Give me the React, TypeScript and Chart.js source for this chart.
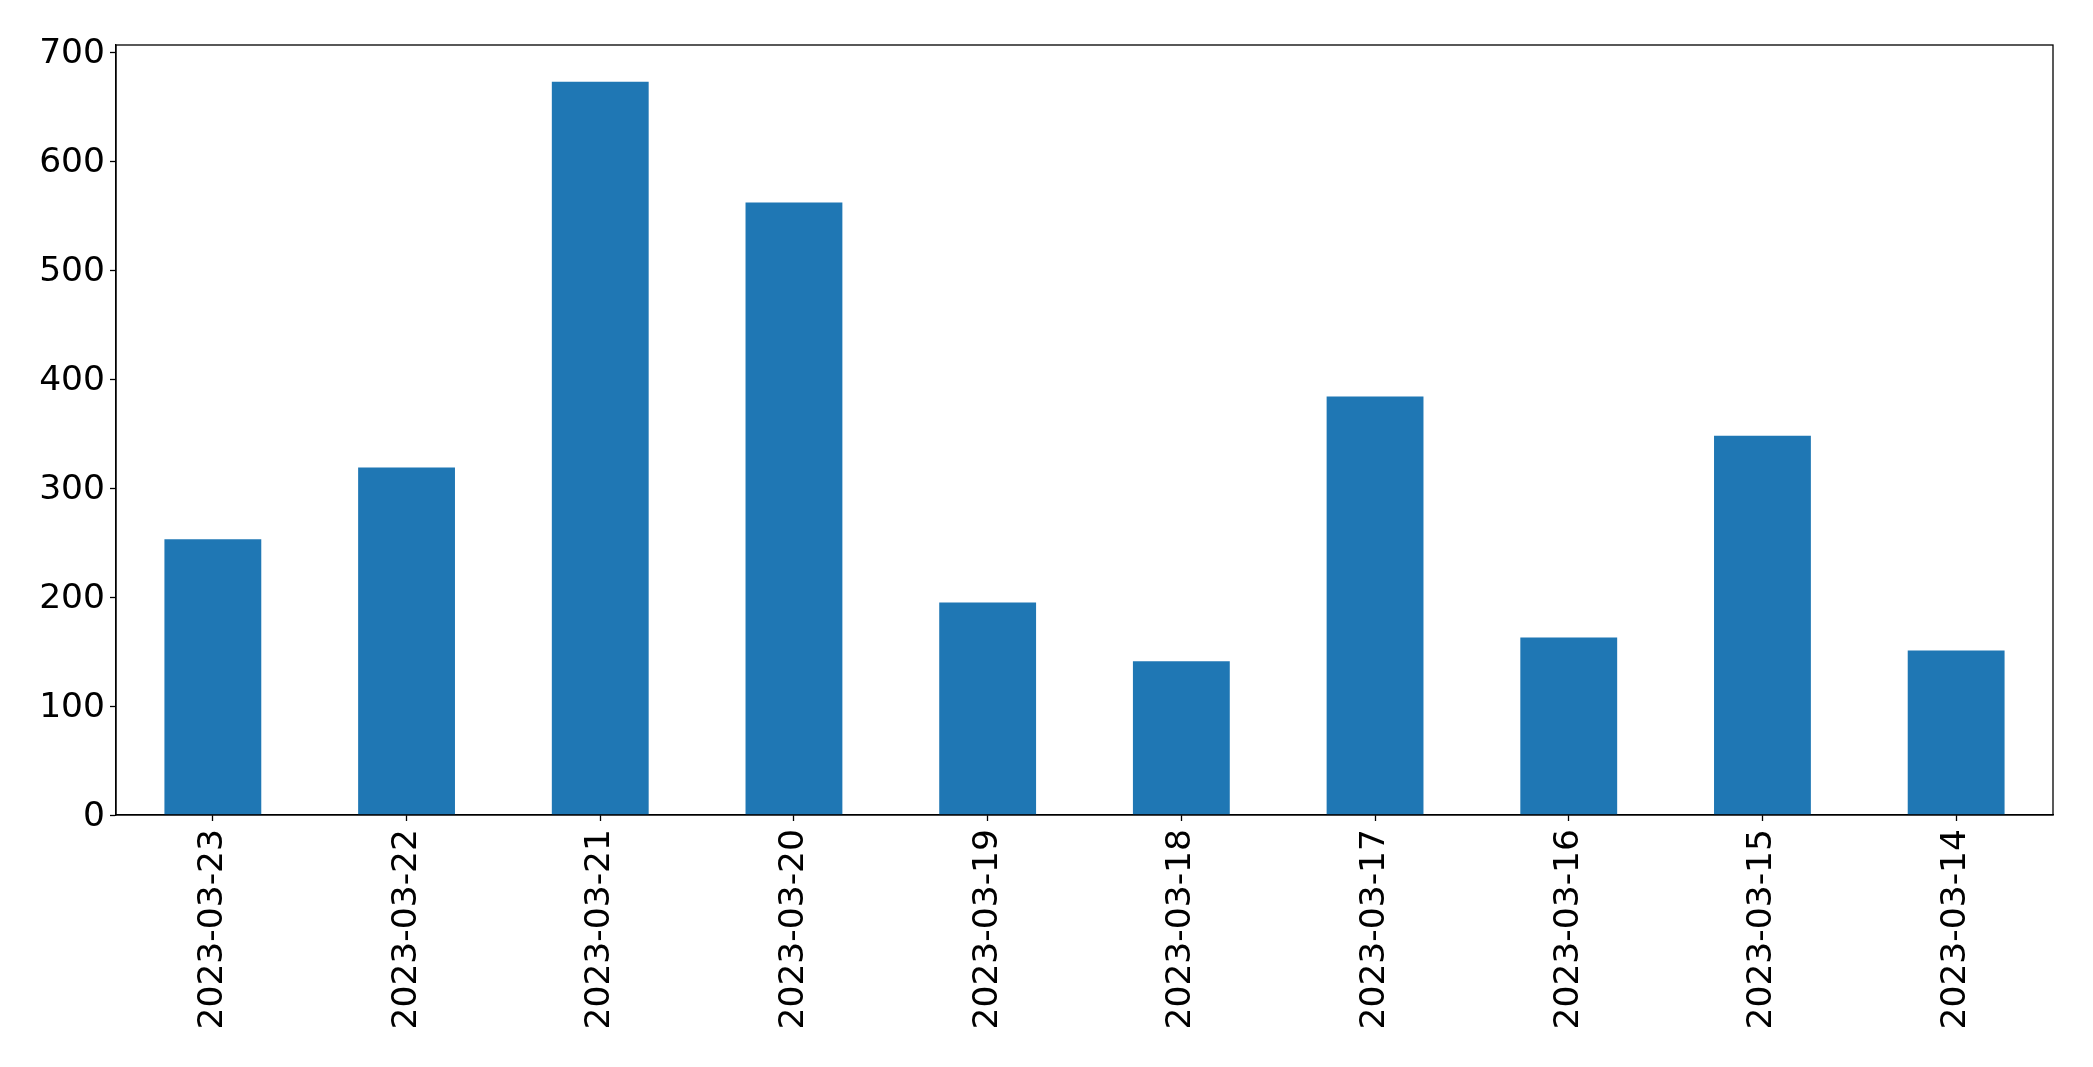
import React, { useEffect, useRef } from "react";
import { Chart, registerables } from "chart.js";

Chart.register(...registerables);

const categories = [
  "2023-03-23",
  "2023-03-22",
  "2023-03-21",
  "2023-03-20",
  "2023-03-19",
  "2023-03-18",
  "2023-03-17",
  "2023-03-16",
  "2023-03-15",
  "2023-03-14",
];
const counts = [253, 319, 673, 562, 195, 141, 384, 163, 348, 151];
const yTicks = [0, 100, 200, 300, 400, 500, 600, 700];

const W = 2093;
const H = 1067;

const framePlugin = {
  id: "frame",
  afterDraw(chart: any) {
    const { ctx, chartArea } = chart;
    ctx.save();
    ctx.strokeStyle = "#000";
    ctx.lineWidth = 1.3;
    ctx.strokeRect(chartArea.left, chartArea.top, chartArea.right - chartArea.left, chartArea.bottom - chartArea.top);
    ctx.restore();
  },
};

export default function App() {
  const ref = useRef<HTMLCanvasElement | null>(null);
  useEffect(() => {
    document.body.style.margin = "0";
    const canvas = ref.current!;
    const yMax = Math.max(...counts) * 1.05;
    const chart = new Chart(canvas, {
      type: "bar",
      data: {
        labels: categories,
        datasets: [
          {
            data: counts,
            backgroundColor: "#1f77b4",
            borderWidth: 0,
            barPercentage: 0.5,
            categoryPercentage: 1,
          },
        ],
      },
      options: {
        responsive: false,
        animation: false,
        devicePixelRatio: 1,
        layout: { padding: { top: 45, right: 40, left: 0, bottom: 0 } },
        plugins: { legend: { display: false }, tooltip: { enabled: false } },
        scales: {
          x: {
            offset: true,
            grid: { offset: false, drawOnChartArea: false, drawTicks: true, tickLength: 6, color: "#000", tickWidth: 1.3 },
            border: { display: true, color: "#000", width: 1.3 },
            ticks: {
              color: "#000",
              font: { family: "DejaVu Sans", size: 34.5 },
              minRotation: 90,
              maxRotation: 90,
              padding: 8,
              autoSkip: false,
            },
            afterFit(scale: any) {
              scale.height = H - 815;
            },
          },
          y: {
            min: 0,
            max: yMax,
            grid: { drawOnChartArea: false, drawTicks: true, tickLength: 6, color: "#000", tickWidth: 1.3 },
            border: { display: true, color: "#000", width: 1.3 },
            afterBuildTicks(scale: any) {
              scale.ticks = yTicks.map((v) => ({ value: v }));
            },
            ticks: {
              color: "#000",
              font: { family: "DejaVu Sans", size: 34.5 },
              padding: 5,
              labelOffset: 2,
            },
            afterFit(scale: any) {
              scale.width = 116;
            },
          },
        },
      },
      plugins: [framePlugin],
    });
    return () => chart.destroy();
  }, []);
  return (
    <div style={{ position: "absolute", left: 0, top: 0, width: W, height: H, background: "#fff" }}>
      <canvas ref={ref} width={W} height={H} style={{ width: W, height: H }} />
    </div>
  );
}
